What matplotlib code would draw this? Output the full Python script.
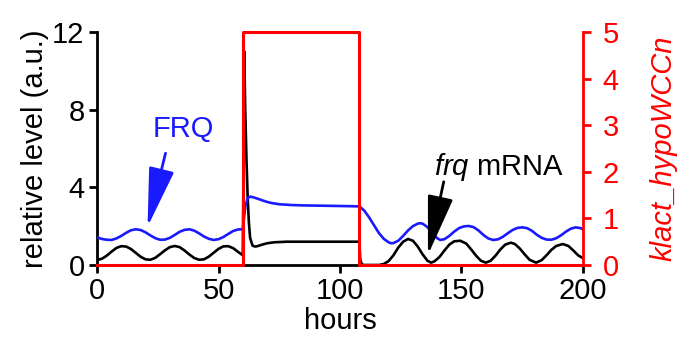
import matplotlib
import matplotlib.pyplot as plt

matplotlib.use('Agg')

plt.rcParams['font.family'] = ['Liberation Sans', 'DejaVu Sans']
plt.rcParams['mathtext.fontset'] = 'custom'
plt.rcParams['mathtext.it'] = 'Liberation Sans:italic'
plt.rcParams['mathtext.rm'] = 'Liberation Sans'

# --- Data ---

frq_t = [0, 2, 4, 6, 8, 10, 12, 14, 16, 18, 20, 22, 24, 26, 28, 30, 32, 34,
         36, 38, 40, 42, 44, 46, 48, 50, 52, 54, 56, 58, 60,
         61, 62, 63, 64, 66, 68, 70, 72, 75, 80, 85, 90, 95, 100, 108,
         110, 112, 114, 116, 118, 120, 121, 122, 124, 126, 128, 130, 132,
         133, 134, 136, 138, 140, 141.3, 143, 145, 147, 149, 151, 153, 155,
         157, 159, 161, 163, 165, 167, 169, 171, 173, 175, 177, 179, 181,
         183, 185, 187, 189, 191, 193, 195, 197, 199, 200]
frq_protein = [1.43, 1.34, 1.30, 1.29, 1.37, 1.50, 1.66, 1.79, 1.84, 1.80,
               1.68, 1.52, 1.38, 1.30, 1.31, 1.40, 1.55, 1.71, 1.81, 1.84,
               1.77, 1.63, 1.47, 1.35, 1.29, 1.33, 1.44, 1.60, 1.75, 1.83,
               1.84,
               3.0, 3.45, 3.52, 3.50, 3.42, 3.33, 3.25, 3.19, 3.13, 3.09,
               3.07, 3.06, 3.05, 3.04, 3.02,
               2.80, 2.45, 2.05, 1.65, 1.35, 1.17, 1.12, 1.13, 1.25, 1.50,
               1.78, 2.00, 2.13, 2.15, 2.13, 1.95, 1.65, 1.38, 1.29, 1.33,
               1.50, 1.72, 1.90, 1.99, 2.01, 1.95, 1.78, 1.55, 1.37, 1.29,
               1.32, 1.45, 1.63, 1.80, 1.91, 1.94, 1.90, 1.76, 1.56, 1.40,
               1.31, 1.30, 1.38, 1.53, 1.72, 1.87, 1.94, 1.90, 1.84]

mrna_t = [0, 2, 4, 6, 8, 10, 12, 14, 16, 18, 20, 22, 24, 26, 28, 30, 32, 34,
          36, 38, 40, 42, 44, 46, 48, 50, 52, 54, 56, 58, 60,
          60.3, 60.6, 61, 61.5, 62, 62.5, 63, 64, 65, 66, 68, 70, 73, 78, 108,
          108.3, 109, 110, 116, 118, 120, 122, 124, 126, 128, 130, 132, 134,
          136, 137.5, 139, 141, 143, 145, 147, 149.5, 152, 154, 156, 158,
          160, 162, 164, 166, 168, 170.3, 172, 174, 176, 178, 180.7, 183,
          185, 187, 189, 191.7, 194, 196, 198, 200]
frq_mrna = [0.26, 0.32, 0.48, 0.69, 0.88, 0.97, 0.95, 0.82, 0.62, 0.42,
            0.29, 0.27, 0.37, 0.56, 0.76, 0.92, 0.98, 0.92, 0.75, 0.54,
            0.36, 0.27, 0.29, 0.43, 0.63, 0.83, 0.96, 0.97, 0.87, 0.68,
            0.50,
            5.0, 11.0, 8.0, 5.5, 3.5, 2.2, 1.4, 1.0, 0.95, 0.97, 1.05, 1.12,
            1.17, 1.20, 1.20,
            0.30, 0.02, 0.0, 0.0, 0.05, 0.20, 0.50, 0.90, 1.20, 1.34, 1.25,
            0.95, 0.55, 0.22, 0.12, 0.20, 0.42, 0.75, 1.05, 1.22, 1.25, 1.10,
            0.80, 0.48, 0.22, 0.12, 0.22, 0.48, 0.80, 1.05, 1.15, 1.08, 0.85,
            0.55, 0.27, 0.12, 0.25, 0.50, 0.78, 0.98, 1.08, 0.98, 0.75, 0.50,
            0.35]

light_t = [0, 60, 60, 108, 108, 200]
klact = [0, 0, 5, 5, 0, 0]

FS = 21

# --- Plot ---

fig = plt.figure(figsize=(6.77, 3.38), dpi=100)
ax = fig.add_axes([0.1433, 0.216, 0.7178, 0.689])
ax2 = ax.twinx()

ax.plot(mrna_t, frq_mrna, color='black', lw=1.9, zorder=3)
ax.plot(frq_t, frq_protein, color='#1a1aff', lw=1.9, zorder=3)
ax2.plot(light_t, klact, color='red', lw=2.2, clip_on=False)

ax.set_xlim(0, 200)
ax.set_ylim(0, 12)
ax2.set_ylim(0, 5)
ax.set_xticks([0, 50, 100, 150, 200])
ax.set_yticks([0, 4, 8, 12])
ax2.set_yticks([0, 1, 2, 3, 4, 5])

for a in (ax, ax2):
    a.spines['top'].set_visible(False)
    a.patch.set_visible(False)
ax2.spines['left'].set_visible(False)
ax2.spines['bottom'].set_visible(False)
ax.spines['right'].set_visible(False)
ax.spines['left'].set_linewidth(2)
ax.spines['bottom'].set_linewidth(2)
ax2.spines['right'].set_linewidth(2)
ax2.spines['right'].set_color('red')

ax.tick_params(labelsize=FS, width=2, length=6, pad=3)
ax2.tick_params(labelsize=FS, width=2, length=6, pad=8, colors='red')

ax.set_xlabel('hours', fontsize=FS, labelpad=1)
ax.set_ylabel('relative level (a.u.)', fontsize=FS, labelpad=2)
ax2.set_ylabel('klact_hypoWCCn', fontsize=FS, color='red',
               style='italic', labelpad=22)

# --- Annotations ---

head = '-|>,head_length=3.7,head_width=0.8'
ax.text(35.6, 7.0, 'FRQ', color='#1a1aff', fontsize=FS,
        ha='center', va='center')
ax.annotate('', xy=(20.8, 1.97), xytext=(28.2, 5.76),
            arrowprops=dict(arrowstyle=head, mutation_scale=10,
                            color='#1a1aff', lw=2, shrinkA=0, shrinkB=0))

ax.text(165.5, 5.07, r'$\mathit{frq}$ mRNA', color='black', fontsize=FS,
        ha='center', va='center')
ax.annotate('', xy=(136.2, 0.52), xytext=(142.7, 4.29),
            arrowprops=dict(arrowstyle=head, mutation_scale=10,
                            color='black', lw=2, shrinkA=0, shrinkB=0))

fig.savefig('out.png', dpi=100)
